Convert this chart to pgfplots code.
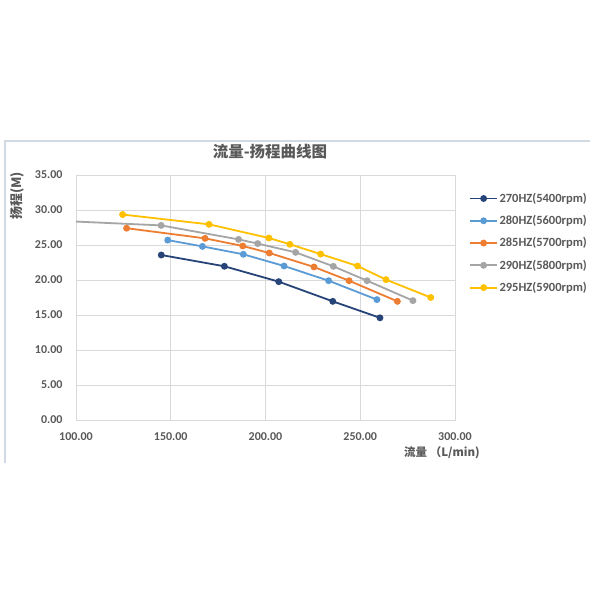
\documentclass[border=0pt]{standalone}
\usepackage{pgfplots}
\pgfplotsset{compat=1.18}
\usepackage{fontspec}
\setmainfont{Carlito}
\newfontfamily\cjk{Noto Sans CJK SC}
\definecolor{cA}{HTML}{264478}
\definecolor{cB}{HTML}{5B9BD5}
\definecolor{cC}{HTML}{ED7D31}
\definecolor{cD}{HTML}{A5A5A5}
\definecolor{cE}{HTML}{FFC000}
\definecolor{txt}{HTML}{595959}
\definecolor{gridc}{HTML}{D9D9D9}
\definecolor{framec}{HTML}{D0D8E2}
\begin{document}
\begin{tikzpicture}
\path[use as bounding box, fill=white] (0pt,0pt) rectangle (600pt,600pt);
\draw[framec, line width=1.5pt] (5pt,137pt) -- (5pt,459pt) -- (590pt,459pt);
\begin{axis}[
  at={(76pt,180pt)}, anchor=south west,
  scale only axis, width=379pt, height=245pt,
  xmin=100, xmax=300, ymin=0, ymax=35,
  xtick={100,150,200,250,300}, ytick={0,5,10,15,20,25,30,35},
  grid=major, grid style={gridc, line width=0.8pt},
  axis line style={gridc, line width=0.8pt},
  major tick length=0pt,
  tick label style={font=\bfseries\fontsize{12}{14}\selectfont, text=txt},
  yticklabel style={xshift=-10pt},
  xticklabel style={yshift=-9pt},
  /pgf/number format/.cd, fixed, fixed zerofill, precision=2, assume math mode=true,
  /pgfplots/.cd,
  every axis plot/.append style={line width=1.8pt, mark=*, mark size=2.5pt, sharp plot},
  legend cell align=left,
  legend style={at={(1.037,0.933)}, anchor=north west, draw=none, fill=none,
    font=\bfseries\fontsize{12.5}{14}\selectfont, text=txt, inner sep=0pt,
    row sep=8.5pt, nodes={inner sep=1.5pt}},
  legend image code/.code={\draw[mark repeat=2, mark phase=2, #1] plot coordinates {(0pt,0pt) (13.5pt,0pt) (27pt,0pt)};},
]
\addplot[cA, mark options={fill=cA}] coordinates {(145,23.57) (178.3,21.96) (207,19.76) (235.5,16.95) (260.4,14.6)};
\addlegendentry{270HZ(5400rpm)}
\addplot[cB, mark options={fill=cB}] coordinates {(148.4,25.7) (166.7,24.8) (188.3,23.67) (209.8,22.0) (233.3,19.9) (258.8,17.2)};
\addlegendentry{280HZ(5600rpm)}
\addplot[cC, mark options={fill=cC}] coordinates {(126.7,27.4) (168.1,25.95) (188,24.86) (202,23.86) (225.6,21.86) (244.1,19.9) (269.6,16.95)};
\addlegendentry{285HZ(5700rpm)}
\addplot[cD, mark options={fill=cD}] coordinates {(90,28.47) (144.9,27.8) (185.8,25.8) (195.9,25.2) (215.9,23.95) (235.8,21.95) (253.6,19.9) (277.8,17.05)};
\addlegendentry{290HZ(5800rpm)}
\addplot[cE, mark options={fill=cE}] coordinates {(124.6,29.35) (170.2,27.95) (201.8,26.0) (212.9,25.1) (229.1,23.7) (248.6,22.0) (263.6,20.05) (287.2,17.5)};
\addlegendentry{295HZ(5900rpm)}
\end{axis}
\node[text=txt, font=\cjk\bfseries\fontsize{15.5}{17}\selectfont] at (270pt,448pt) {流量-扬程曲线图};
\node[text=txt, font=\cjk\bfseries\fontsize{13}{15}\selectfont, rotate=90] at (17pt,404pt) {扬程(M)};
\node[text=txt, font=\cjk\bfseries\fontsize{11.5}{13}\selectfont] at (442pt,147pt) {流量 （L/min)};
\end{tikzpicture}
\end{document}
